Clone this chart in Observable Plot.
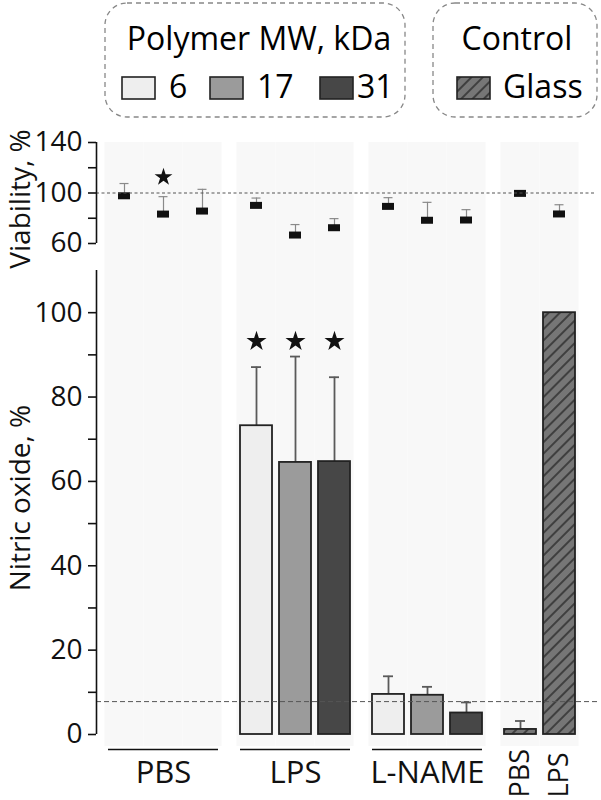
<!DOCTYPE html>
<html>
<head>
<meta charset="utf-8">
<script src="https://cdn.jsdelivr.net/npm/d3@7"></script>
<script src="https://cdn.jsdelivr.net/npm/@observablehq/plot@0.6"></script>
<style>
  html, body { margin: 0; padding: 0; background: #fff; overflow: hidden; }
  body { width: 601px; height: 800px; position: relative; font-family: "Open Sans", sans-serif; color: #111; }
  .layer { position: absolute; left: 0; width: 601px; overflow: hidden; }
  .axislayer { position: absolute; left: 0; width: 601px; overflow: visible; }
  .ylab { position: absolute; font-size: 28px; line-height: 38px; white-space: nowrap;
          transform: translate(-50%, -50%) rotate(-90deg); }
</style>
</head>
<body>
<svg width="0" height="0" style="position:absolute">
  <defs>
    <pattern id="hatch" patternUnits="userSpaceOnUse" width="8" height="8" patternTransform="rotate(45)">
      <rect width="8" height="8" fill="#767676"></rect>
      <line x1="4" y1="0" x2="4" y2="8" stroke="#111" stroke-width="1.1"></line>
    </pattern>
  </defs>
</svg>

<svg id="legend" class="layer" style="top:0" width="601" height="122">
  <rect x="105" y="3" width="300" height="114" rx="22" fill="none" stroke="#888" stroke-width="1.3" stroke-dasharray="5,4"></rect>
  <text x="259" y="50" text-anchor="middle" font-size="32">Polymer MW, kDa</text>
  <rect x="122" y="77" width="33" height="22" fill="#eeeeee" stroke="#222" stroke-width="1.6"></rect>
  <text x="169" y="98" font-size="32">6</text>
  <rect x="210" y="77" width="33" height="22" fill="#9b9b9b" stroke="#222" stroke-width="1.6"></rect>
  <text x="257" y="98" font-size="32">17</text>
  <rect x="320" y="77" width="33" height="22" fill="#474747" stroke="#222" stroke-width="1.6"></rect>
  <text x="357" y="98" font-size="32">31</text>
  <rect x="433" y="3" width="164" height="114" rx="22" fill="none" stroke="#888" stroke-width="1.3" stroke-dasharray="5,4"></rect>
  <text x="517" y="50" text-anchor="middle" font-size="32">Control</text>
  <rect x="457" y="77" width="33" height="22" fill="url(#hatch)" stroke="#222" stroke-width="1.6"></rect>
  <text x="503" y="98" font-size="32">Glass</text>
</svg>

<div id="topData" class="layer" style="top:125px;height:130px"></div>
<div id="topAxis" class="axislayer" style="top:125px;height:130px"></div>
<div id="botData" class="layer" style="top:255px;height:545px"></div>
<div id="botAxis" class="axislayer" style="top:255px;height:545px"></div>
<div class="ylab" style="left:19px;top:199px">Viability, %</div>
<div class="ylab" style="left:19px;top:498px">Nitric oxide, %</div>

<script>
// ---------- data ----------
const groups = ["PBS", "LPS", "L-NAME", "Control"];
const polymerMW = ["6", "17", "31"];
const controlMembers = ["PBS", "LPS"];
const labelledGroups = ["PBS", "LPS", "L-NAME"];

// Viability, % (mean) and error (SD, upper side only)
const viabPBS = [97.8, 83.3, 85.7];
const viabLPS = [90.2, 66.7, 72.5];
const viabLNAME = [89.4, 78.4, 78.6];
const viabControl = [99.7, 83.4];
const viabErrPBS = [9.7, 13.8, 17.2];
const viabErrLPS = [5.8, 8.3, 7.2];
const viabErrLNAME = [6.9, 14.2, 8.2];
const viabErrControl = [0, 7.3];

// Nitric oxide, % (mean) and error
const noPBS = [null, null, null];
const noLPS = [73.2, 64.5, 64.7];
const noLNAME = [9.5, 9.3, 5.1];
const noControl = [1.2, 100];
const noErrPBS = [0, 0, 0];
const noErrLPS = [13.9, 25.1, 20.0];
const noErrLNAME = [4.3, 2.0, 2.5];
const noErrControl = [2.0, 0];

// significance stars
const viabStarGroup = ["PBS"];
const viabStarMW = ["17"];
const viabStarLevel = [112.5];
const noStarGroup = ["LPS", "LPS", "LPS"];
const noStarMW = ["6", "17", "31"];
const noStarLevel = [93.2, 93.2, 93.2];

// reference lines and axes
const viabRef = 100;
const noRef = 7.8;
const viabDomain = [60, 140];
const viabTicksMajor = [60, 100, 140];
const viabTicksMinor = [80, 120];
const noDomain = [0, 110];
const noTicksMajor = [0, 20, 40, 60, 80, 100];
const noTicksMinor = [10, 30, 50, 70, 90];

// ---------- build tables ----------
function buildRows(values, errs) {
  const out = [];
  groups.forEach((g, gi) => {
    const members = g === "Control" ? controlMembers : polymerMW;
    members.forEach((m, i) => out.push({
      group: g, member: m, slot: i, mw: g === "Control" ? null : m,
      value: values[gi][i], err: errs[gi][i], glass: g === "Control"
    }));
  });
  return out;
}
const viabRows = buildRows([viabPBS, viabLPS, viabLNAME, viabControl],
                           [viabErrPBS, viabErrLPS, viabErrLNAME, viabErrControl]);
const noRows = buildRows([noPBS, noLPS, noLNAME, noControl],
                         [noErrPBS, noErrLPS, noErrLNAME, noErrControl]);
const viabStars = viabStarGroup.map((g, i) => ({group: g, slot: polymerMW.indexOf(viabStarMW[i]), level: viabStarLevel[i]}));
const noStars = noStarGroup.map((g, i) => ({group: g, slot: polymerMW.indexOf(noStarMW[i]), level: noStarLevel[i]}));
const ctrlRows = noRows.filter(d => d.group === "Control");

const FONT = "'Open Sans', sans-serif";
const plotStyle = {background: "transparent", maxWidth: "none", overflow: "visible", fontFamily: FONT, color: "#111"};
const fillColors = ["#eeeeee", "#9b9b9b", "#474747"];
const bandFill = "#f8f8f8";

function dataPlot({height, marginTop, marginBottom, yDomain, marks}) {
  return Plot.plot({
    width: 615, height, marginLeft: 107, marginRight: 0, marginTop, marginBottom,
    fx: {domain: groups, paddingInner: 0.1698, paddingOuter: 0, axis: null, label: null},
    x: {type: "band", domain: [0, 1, 2], paddingInner: 0.18, paddingOuter: 0, axis: null},
    y: {domain: yDomain, axis: null},
    color: {domain: polymerMW, range: fillColors},
    style: plotStyle,
    marks
  });
}

function axisPlot({height, marginTop, marginBottom, marginRight, yDomain, major, minor, ref, dash}) {
  return Plot.plot({
    width: 601, height, marginLeft: 96, marginRight, marginTop, marginBottom,
    x: {domain: [0, 1], axis: null},
    y: {domain: yDomain, axis: null},
    style: plotStyle,
    marks: [
      Plot.ruleY([ref], {stroke: "#555", strokeWidth: 1, strokeDasharray: dash}),
      Plot.ruleX([0], {y1: () => yDomain[0], y2: () => yDomain[1], stroke: "#111", strokeWidth: 1.6}),
      Plot.axisY(minor, {anchor: "left", tickSize: 8, tickFormat: () => "", label: null, strokeWidth: 1.6}),
      Plot.axisY(major, {anchor: "left", tickSize: 8, tickPadding: 6, fontSize: 28, label: null, strokeWidth: 1.6})
    ]
  });
}

// ---------- top panel: viability ----------
const vErr = viabRows.filter(d => d.err > 0);
document.getElementById("topData").append(dataPlot({
  height: 130, marginTop: 17, marginBottom: 12, yDomain: viabDomain,
  marks: [
    Plot.barY(viabRows, {fx: "group", x: "slot", y1: () => viabDomain[0], y2: () => viabDomain[1],
      fill: bandFill, insetLeft: -3.6, insetRight: -3.6, insetBottom: -12}),
    Plot.ruleX(vErr, {fx: "group", x: "slot", y1: "value", y2: d => d.value + d.err, stroke: "#8a8a8a", strokeWidth: 1.2}),
    Plot.tickY(vErr, {fx: "group", x: "slot", y: d => d.value + d.err, stroke: "#8a8a8a", strokeWidth: 1.2, insetLeft: 11.5, insetRight: 11.5}),
    Plot.tickY(viabRows, {fx: "group", x: "slot", y: "value", stroke: "#111", strokeWidth: 7, insetLeft: 10, insetRight: 10}),
    Plot.dot(viabStars, {fx: "group", x: "slot", y: "level", symbol: "star", fill: "#111", stroke: "none", r: 5.6})
  ]
}));
document.getElementById("topAxis").append(axisPlot({
  height: 130, marginTop: 17, marginBottom: 12, marginRight: 5, yDomain: viabDomain,
  major: viabTicksMajor, minor: viabTicksMinor, ref: viabRef, dash: "3,2.5"
}));

// ---------- bottom panel: nitric oxide ----------
const noBars = noRows.filter(d => d.value != null);
const noErr = noBars.filter(d => d.err > 0);
document.getElementById("botData").append(dataPlot({
  height: 545, marginTop: 15, marginBottom: 66, yDomain: noDomain,
  marks: [
    Plot.barY(noRows, {fx: "group", x: "slot", y1: () => noDomain[0], y2: () => noDomain[1],
      fill: bandFill, insetLeft: -3.6, insetRight: -3.6, insetTop: -15, insetBottom: -12}),
    Plot.ruleX(noErr, {fx: "group", x: "slot", y1: "value", y2: d => d.value + d.err, stroke: "#5a5a5a", strokeWidth: 1.8}),
    Plot.tickY(noErr, {fx: "group", x: "slot", y: d => d.value + d.err, stroke: "#5a5a5a", strokeWidth: 1.8, insetLeft: 11, insetRight: 11}),
    Plot.barY(noBars.filter(d => !d.glass), {fx: "group", x: "slot", y: "value", fill: "mw", stroke: "#222", strokeWidth: 1.8}),
    Plot.barY(noBars.filter(d => d.glass), {fx: "group", x: "slot", y: "value", fill: "url(#hatch)", stroke: "#222", strokeWidth: 1.8}),
    Plot.dot(noStars, {fx: "group", x: "slot", y: "level", symbol: "star", fill: "#111", stroke: "none", r: 6.3}),
    Plot.ruleY(labelledGroups, {fx: d => d, y: () => 0, dy: 15, stroke: "#111", strokeWidth: 1.5}),
    Plot.text(labelledGroups, {fx: d => d, text: d => d, frameAnchor: "bottom", lineAnchor: "bottom", dy: 48, fontSize: 31, fill: "#111"}),
    Plot.text(ctrlRows, {fx: "group", x: "slot", text: "member", rotate: -90, frameAnchor: "bottom",
      textAnchor: "start", lineAnchor: "middle", dy: 63, fontSize: 27, fill: "#111"})
  ]
}));
document.getElementById("botAxis").append(axisPlot({
  height: 545, marginTop: 15, marginBottom: 66, marginRight: 3, yDomain: noDomain,
  major: noTicksMajor, minor: noTicksMinor, ref: noRef, dash: "5,3"
}));
</script>
</body>
</html>
